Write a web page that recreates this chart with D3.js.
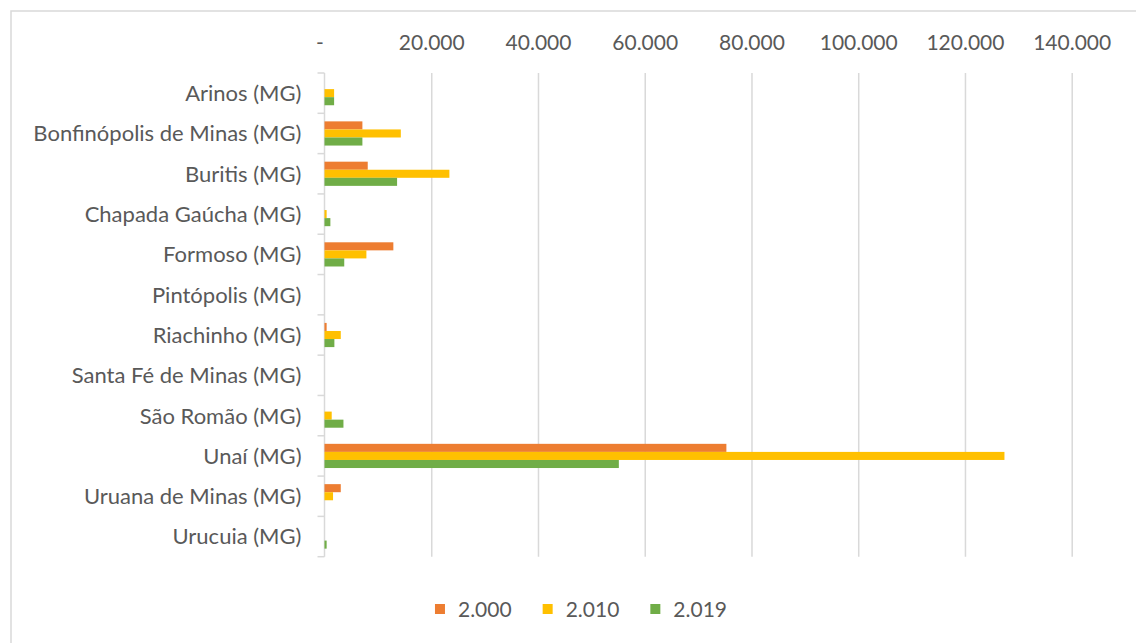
<!DOCTYPE html>
<html>
<head>
<meta charset="utf-8">
<script src="https://cdn.jsdelivr.net/npm/d3@7"></script>
<style>
  html, body { margin: 0; padding: 0; background: #fff; }
  svg { display: block; }
  text { font-family: Lato, "Open Sans", sans-serif; fill: #595959; }
</style>
</head>
<body>
<svg id="chart" width="1136" height="643"></svg>
<script>
// ---- data ----
const categories = [
  "Arinos (MG)",
  "Bonfinópolis de Minas (MG)",
  "Buritis (MG)",
  "Chapada Gaúcha (MG)",
  "Formoso (MG)",
  "Pintópolis (MG)",
  "Riachinho (MG)",
  "Santa Fé de Minas (MG)",
  "São Romão (MG)",
  "Unaí (MG)",
  "Uruana de Minas (MG)",
  "Urucuia (MG)"
];
const seriesNames = ["2.000", "2.010", "2.019"];
const values2000 = [0, 7100, 8100, 0, 12900, 0, 400, 0, 0, 75300, 3050, 0];
const values2010 = [1800, 14300, 23400, 400, 7850, 0, 3050, 0, 1350, 127400, 1600, 0];
const values2019 = [1800, 7100, 13600, 1100, 3700, 0, 1850, 0, 3550, 55150, 0, 400];
const tickValues = [0, 20000, 40000, 60000, 80000, 100000, 120000, 140000];
const colors = ["#ED7D31", "#FFC000", "#70AD47"];

const series = [values2000, values2010, values2019];

// ---- layout ----
const svg = d3.select("#chart");
const plot = { left: 324.5, right: 1071.7, top: 73, bottom: 556.7 };

// chart frame
svg.append("rect")
  .attr("x", 11).attr("y", 11)
  .attr("width", 1136).attr("height", 640)
  .attr("fill", "#fff").attr("stroke", "#d9d9d9").attr("stroke-width", 1.5);

const x = d3.scaleLinear().domain([0, 140000]).range([plot.left, plot.right]);
const y = d3.scaleBand().domain(categories).range([plot.top, plot.bottom])
  .paddingInner(0.4).paddingOuter(0.2);
const ySub = d3.scaleBand().domain(d3.range(seriesNames.length)).range([0, y.bandwidth()]);

const fmt = v => v === 0 ? "-" : d3.format(",")(v).replace(/,/g, ".");

// gridlines + tick labels (top axis)
const xAxis = d3.axisTop(x).tickValues(tickValues).tickFormat(fmt)
  .tickSize(-(plot.bottom - plot.top)).tickPadding(23);
const gx = svg.append("g").attr("transform", `translate(0,${plot.top})`).call(xAxis);
gx.select(".domain").remove();
gx.selectAll(".tick line")
  .attr("stroke", "#d9d9d9").attr("stroke-width", 1.5)
  .attr("display", d => d === 0 ? "none" : null);
gx.selectAll(".tick text")
  .style("font-size", "21px").attr("fill", "#595959")
  .attr("font-family", null)
  .attr("dx", d => d === 0 ? -5 : 0);

// category axis line + boundary ticks
const step = y.step();
const boundaries = d3.range(categories.length + 1).map(i => y(categories[0]) - y.paddingOuter() * step + i * step);
svg.append("line")
  .attr("x1", x(0)).attr("x2", x(0))
  .attr("y1", plot.top).attr("y2", plot.bottom)
  .attr("stroke", "#d9d9d9").attr("stroke-width", 1.5);
svg.append("g").selectAll("line").data(boundaries).join("line")
  .attr("x1", x(0) - 7).attr("x2", x(0))
  .attr("y1", d => d).attr("y2", d => d)
  .attr("stroke", "#d9d9d9").attr("stroke-width", 1.5);

// category labels
svg.append("g").selectAll("text").data(categories).join("text")
  .attr("x", x(0) - 23)
  .attr("y", d => y(d) + y.bandwidth() / 2)
  .attr("dy", "0.36em")
  .attr("text-anchor", "end")
  .style("font-size", "22px")
  .text(d => d);

// bars
series.forEach((vals, si) => {
  svg.append("g").selectAll("rect").data(vals).join("rect")
    .attr("x", x(0))
    .attr("y", (d, i) => y(categories[i]) + ySub(si))
    .attr("width", d => x(d) - x(0))
    .attr("height", ySub.bandwidth())
    .attr("fill", colors[si]);
});

// legend
const legend = svg.append("g");
const items = legend.selectAll("g").data(seriesNames).join("g");
items.append("rect").attr("width", 10).attr("height", 10)
  .attr("fill", (d, i) => colors[i]);
items.append("text").attr("x", 23).attr("y", 5).attr("dy", "0.36em")
  .style("font-size", "21px").text(d => d);
const widths = [];
items.each(function () {
  const w = 23 + this.querySelector("text").getComputedTextLength();
  widths.push(w);
});
const gap = 31;
const total = d3.sum(widths) + gap * (widths.length - 1);
const center = 581;
let cx = center - total / 2;
items.attr("transform", (d, i) => {
  const t = `translate(${cx},${604})`;
  cx += widths[i] + gap;
  return t;
});
</script>
</body>
</html>
